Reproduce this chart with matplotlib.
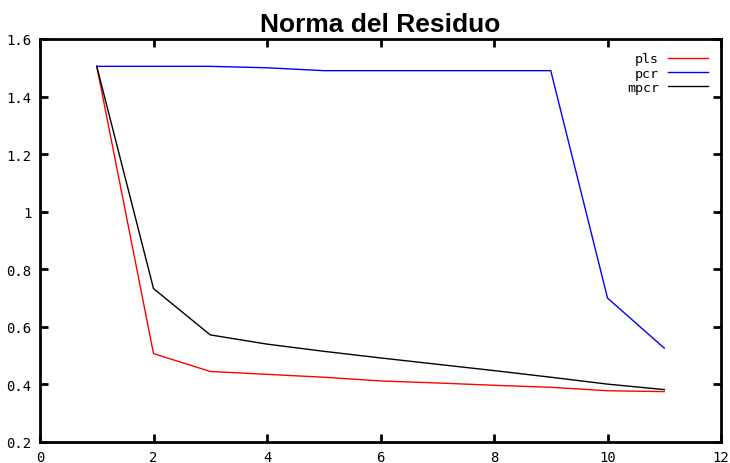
import numpy as np
import matplotlib.pyplot as plt

# number of components
comps = [1, 2, 3, 4, 5, 6, 7, 8, 9, 10, 11]

# residual norm per method
pls = [1.505, 0.507, 0.445, 0.435, 0.425, 0.412, 0.405, 0.397, 0.39, 0.378, 0.375]
pcr = [1.505, 1.505, 1.505, 1.5, 1.49, 1.49, 1.49, 1.49, 1.49, 0.70, 0.526]
mpcr = [1.505, 0.733, 0.572, 0.54, 0.515, 0.492, 0.47, 0.448, 0.425, 0.401, 0.382]

xticks = [0, 2, 4, 6, 8, 10, 12]
yticks = [0.2, 0.4, 0.6, 0.8, 1.0, 1.2, 1.4, 1.6]
yticklabels = ['0.2', '0.4', '0.6', '0.8', '1', '1.2', '1.4', '1.6']

fig = plt.figure(figsize=(7.3, 4.64), dpi=100)
ax = fig.add_axes([0.0548, 0.0453, 0.9329, 0.8685])

ax.plot(comps, pls, color='#ff0000', lw=1.0, label='pls')
ax.plot(comps, pcr, color='#0000ff', lw=1.0, label='pcr')
ax.plot(comps, mpcr, color='#000000', lw=1.0, label='mpcr')

ax.set_xlim(0, 12)
ax.set_ylim(0.2, 1.6)
ax.set_xticks(xticks)
ax.set_yticks(yticks)
ax.set_yticklabels(yticklabels)

for s in ax.spines.values():
    s.set_linewidth(2)
ax.tick_params(direction='in', length=6, width=2, top=True, right=True,
               labelsize=10, pad=6)
for lab in ax.get_xticklabels() + ax.get_yticklabels():
    lab.set_family('DejaVu Sans Mono')

ax.set_title('Norma del Residuo', fontsize=19, fontweight='bold',
             family='Liberation Sans', pad=6)

leg = ax.legend(loc='upper right', frameon=False, markerfirst=False,
                fontsize=9.5, handlelength=3.0, handletextpad=0.7,
                labelspacing=0.1, borderaxespad=0.6)
for t in leg.get_texts():
    t.set_family('DejaVu Sans Mono')
    t.set_ha('right')

fig.savefig('out.png', dpi=100)
